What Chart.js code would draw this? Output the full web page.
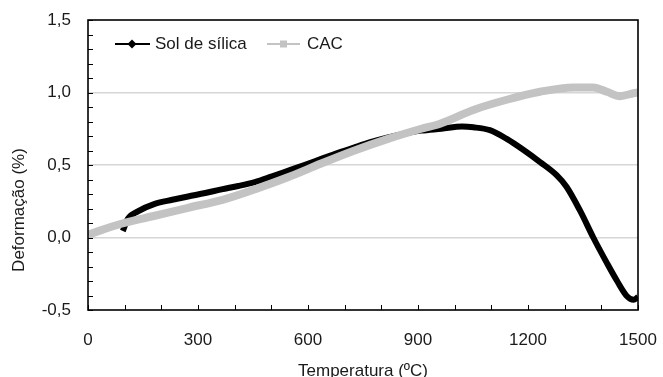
<!DOCTYPE html>
<html>
<head>
<meta charset="utf-8">
<script src="https://cdn.jsdelivr.net/npm/chart.js@4"></script>
<style>
  html, body { margin: 0; padding: 0; background: #fff; }
  #wrap { width: 663px; height: 377px; }
</style>
</head>
<body>
<div id="wrap"><canvas id="chart"></canvas></div>
<script>
// Sol de sílica (black)
const silicaTemp = [95, 109, 136, 182, 230, 273, 320, 364, 410, 455, 500, 545, 590, 636, 680, 727, 770, 818, 860, 909, 964, 1020, 1051, 1096, 1142, 1187, 1233, 1278, 1305, 1342, 1378, 1415, 1443, 1470, 1488, 1500];
const silicaDef  = [0.045, 0.13, 0.18, 0.232, 0.26, 0.283, 0.307, 0.332, 0.355, 0.382, 0.42, 0.46, 0.5, 0.542, 0.582, 0.622, 0.657, 0.69, 0.715, 0.737, 0.75, 0.765, 0.76, 0.74, 0.68, 0.605, 0.52, 0.43, 0.35, 0.185, 0.0, -0.175, -0.30, -0.405, -0.43, -0.41];

// CAC (grey)
const cacTemp = [0, 91, 182, 273, 367, 458, 545, 636, 727, 818, 909, 960, 1051, 1142, 1233, 1324, 1378, 1415, 1451, 1488, 1500];
const cacDef  = [0.02, 0.095, 0.15, 0.205, 0.26, 0.335, 0.415, 0.51, 0.60, 0.68, 0.75, 0.785, 0.88, 0.95, 1.005, 1.035, 1.035, 1.005, 0.975, 0.995, 1.0];

const seriesNames = ['Sol de sílica', 'CAC'];
const xTitle = 'Temperatura (ºC)';
const yTitle = 'Deformação (%)';

const FONT = 'Liberation Sans, Arial, sans-serif';
const GREY = '#c3c3c3';

const toPoints = (xs, ys) => xs.map((x, i) => ({ x: x, y: ys[i] }));

// inner tick marks, frame, legend and y title
const decor = {
    id: 'decor',
    afterDraw(chart) {
        const ctx = chart.ctx;
        const a = chart.chartArea;
        const xs = chart.scales.x, ys = chart.scales.y;
        ctx.save();
        ctx.strokeStyle = '#000';
        ctx.lineWidth = 1;
        ctx.beginPath();
        ys.ticks.forEach(t => {
            const py = Math.round(ys.getPixelForValue(t.value)) + 0.5;
            ctx.moveTo(a.left, py); ctx.lineTo(a.left + 5, py);
        });
        xs.ticks.forEach(t => {
            const px = Math.round(xs.getPixelForValue(t.value)) + 0.5;
            ctx.moveTo(px, a.bottom); ctx.lineTo(px, a.bottom - 5);
        });
        ctx.stroke();

        ctx.lineWidth = 1.6;
        ctx.strokeRect(a.left, a.top, a.right - a.left, a.bottom - a.top);

        // legend
        ctx.font = '17px ' + FONT;
        ctx.textBaseline = 'middle';
        const ly = 44;
        ctx.lineWidth = 2;
        ctx.strokeStyle = '#000';
        ctx.beginPath(); ctx.moveTo(115, ly); ctx.lineTo(150, ly); ctx.stroke();
        ctx.fillStyle = '#000';
        ctx.beginPath();
        ctx.moveTo(132, ly - 4.5); ctx.lineTo(136.5, ly); ctx.lineTo(132, ly + 4.5); ctx.lineTo(127.5, ly);
        ctx.closePath(); ctx.fill();
        ctx.fillStyle = '#1a1a1a';
        ctx.fillText(seriesNames[0], 155, ly);

        ctx.strokeStyle = GREY;
        ctx.beginPath(); ctx.moveTo(267, ly); ctx.lineTo(300, ly); ctx.stroke();
        ctx.fillStyle = GREY;
        ctx.fillRect(280, ly - 3.5, 7, 7);
        ctx.fillStyle = '#1a1a1a';
        ctx.fillText(seriesNames[1], 307, ly);

        // y axis title
        ctx.translate(19, 210);
        ctx.rotate(-Math.PI / 2);
        ctx.textAlign = 'center';
        ctx.fillText(yTitle, 0, 0);
        ctx.restore();
    }
};

new Chart(document.getElementById('chart'), {
    type: 'line',
    data: {
        datasets: [
            {
                label: seriesNames[0],
                data: toPoints(silicaTemp, silicaDef),
                borderColor: '#000',
                borderWidth: 6,
                pointRadius: 0,
                cubicInterpolationMode: 'monotone',
                order: 1
            },
            {
                label: seriesNames[1],
                data: toPoints(cacTemp, cacDef),
                borderColor: GREY,
                borderWidth: 8,
                pointRadius: 0,
                cubicInterpolationMode: 'monotone',
                order: 0
            }
        ]
    },
    options: {
        responsive: true, maintainAspectRatio: false,
        animation: false,
        layout: { padding: { top: 20, right: 25, left: 0, bottom: 0 } },
        plugins: { legend: { display: false }, tooltip: { enabled: false } },
        scales: {
            x: {
                type: 'linear', min: 0, max: 1500,
                afterFit: (s) => { s.height = 67; s.paddingLeft = 0; s.paddingRight = 0; },
                border: { display: false },
                grid: { display: false, drawTicks: false },
                ticks: {
                    stepSize: 100, autoSkip: false, maxRotation: 0,
                    padding: 20, color: '#1a1a1a', font: { family: FONT, size: 17 },
                    callback: (v) => (v % 300 === 0 ? String(v) : '')
                },
                title: {
                    display: true, text: xTitle, color: '#1a1a1a',
                    font: { family: FONT, size: 17 }, padding: { top: 0, bottom: -5 }
                }
            },
            y: {
                min: -0.5, max: 1.5,
                afterFit: (s) => { s.width = 88; s.paddingTop = 0; s.paddingBottom = 0; },
                border: { display: false },
                grid: {
                    drawTicks: false, lineWidth: 1.5,
                    color: (c) => {
                        const r = Math.round(c.tick.value * 10);
                        return (r % 5 === 0 && r > -5 && r < 15) ? '#d6d6d6' : 'rgba(0,0,0,0)';
                    }
                },
                ticks: {
                    stepSize: 0.1, autoSkip: false,
                    padding: 17, color: '#1a1a1a', font: { family: FONT, size: 17 },
                    callback: (v) => {
                        const r = Math.round(v * 10);
                        return r % 5 === 0 ? (r / 10).toFixed(1).replace('.', ',') : '';
                    }
                }
            }
        }
    },
    plugins: [decor]
});
</script>
</body>
</html>
